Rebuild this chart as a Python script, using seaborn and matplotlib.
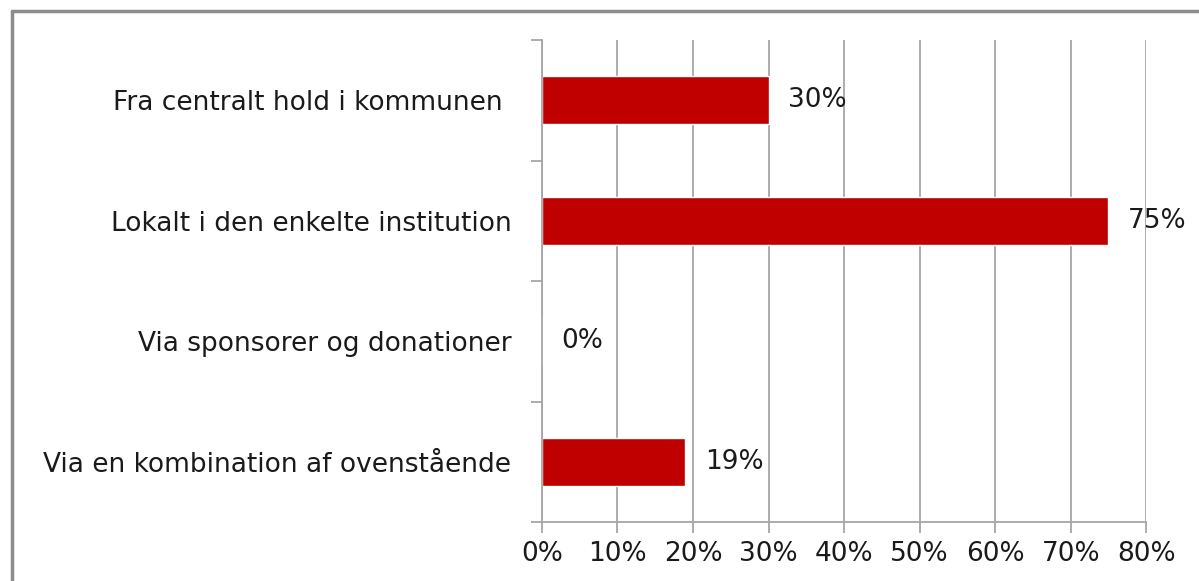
import numpy as np
import pandas as pd
import matplotlib.pyplot as plt
import seaborn as sns
from matplotlib.lines import Line2D
from matplotlib.ticker import PercentFormatter, FixedLocator

categories = [
    "Fra centralt hold i kommunen ",
    "Lokalt i den enkelte institution",
    "Via sponsorer og donationer",
    "Via en kombination af ovenstående",
]
shares = [30, 75, 0, 19]
x_ticks = [0, 10, 20, 30, 40, 50, 60, 70, 80]

df = pd.DataFrame({"Kategori": categories, "Andel": shares})

sns.set_style("white")
plt.rcParams['font.family'] = ['DejaVu Sans']

fig = plt.figure(figsize=(11.99, 5.81), dpi=100)
ax = fig.add_axes([0.452, 0.1015, 0.504, 0.8295])

sns.barplot(data=df, x="Andel", y="Kategori", color="#C00000", width=0.4,
            orient="h", ax=ax, saturation=1)

ax.set_xlim(0, 80)
ax.set_ylim(3.5, -0.5)
ax.set_xticks(x_ticks)
ax.xaxis.set_major_formatter(PercentFormatter(decimals=0))
ax.xaxis.grid(True, color="#a6a6a6", linewidth=1.3)
ax.set_axisbelow(True)
ax.set_xlabel("")
ax.set_ylabel("")

for side in ["top", "right"]:
    ax.spines[side].set_visible(False)
for side in ["left", "bottom"]:
    ax.spines[side].set_color("#a6a6a6")
    ax.spines[side].set_linewidth(1.3)

fs = 19
ax.tick_params(axis="x", length=8, width=1.3, color="#a6a6a6", pad=6,
               labelsize=fs, labelcolor="#1a1a1a", direction="out", bottom=True)
ax.tick_params(axis="y", which="major", length=0, pad=22, labelsize=fs,
               labelcolor="#1a1a1a")
ax.yaxis.set_minor_locator(FixedLocator(np.arange(-0.5, 4.0, 1.0)))
ax.tick_params(axis="y", which="minor", length=8, width=1.3, color="#a6a6a6",
               direction="out", left=True)

for i, v in enumerate(shares):
    ax.annotate(f"{v}%", xy=(v, i), xytext=(14, 0), textcoords="offset points",
                ha="left", va="center", fontsize=fs, color="#1a1a1a")

# outer chart frame, cut off on right and bottom like the source
fig.add_artist(Line2D([0.010, 1.0], [0.981, 0.981], transform=fig.transFigure,
                      color="#8c8c8c", linewidth=2.5))
fig.add_artist(Line2D([0.010, 0.010], [0.0, 0.981], transform=fig.transFigure,
                      color="#8c8c8c", linewidth=2.5))

plt.savefig("out.png", dpi=100)
plt.close()
